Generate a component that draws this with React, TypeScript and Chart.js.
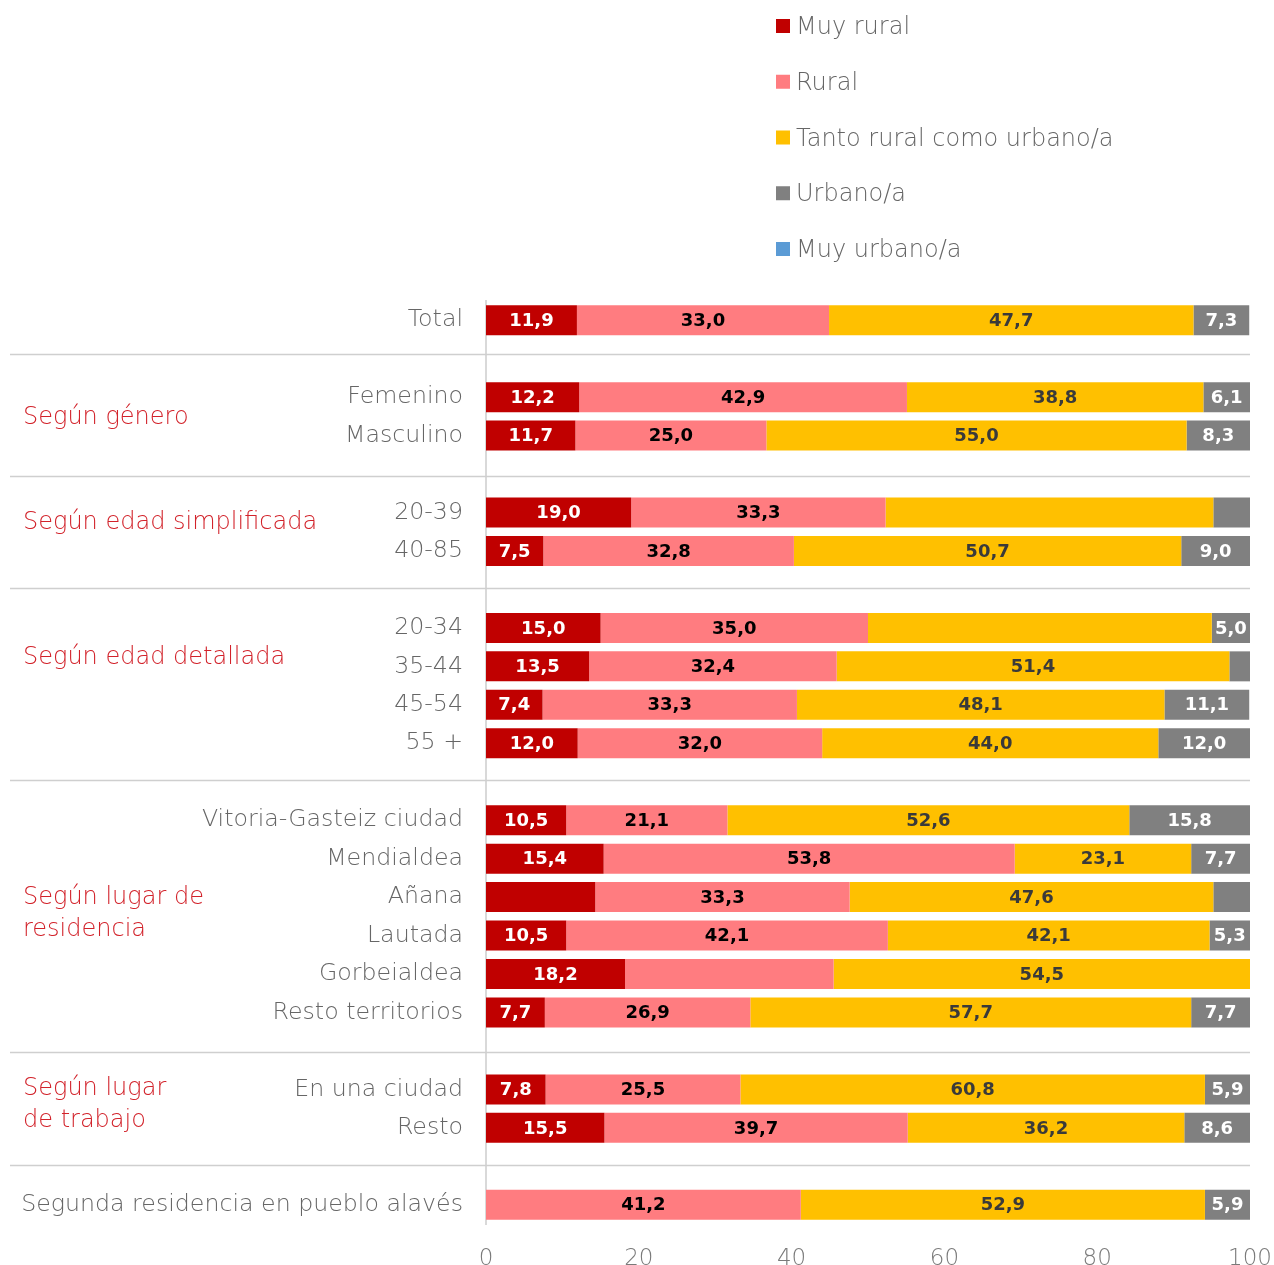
import { useEffect, useRef } from "react";
import { Chart, registerables } from "chart.js";

Chart.register(...registerables);

// ---------- DATA ----------
const categories: string[] = [
  "Total",
  "",
  "Femenino",
  "Masculino",
  "",
  "20-39",
  "40-85",
  "",
  "20-34",
  "35-44",
  "45-54",
  "55 +",
  "",
  "Vitoria-Gasteiz ciudad",
  "Mendialdea",
  "Añana",
  "Lautada",
  "Gorbeialdea",
  "Resto territorios",
  "",
  "En una ciudad",
  "Resto",
  "",
  "Segunda residencia en pueblo alavés",
];

const seriesNames = ["Muy rural", "Rural", "Tanto rural como urbano/a", "Urbano/a", "Muy urbano/a"];

const muyRural = [11.9, null, 12.2, 11.7, null, 19.0, 7.5, null, 15.0, 13.5, 7.4, 12.0, null, 10.5, 15.4, 14.3, 10.5, 18.2, 7.7, null, 7.8, 15.5, null, 0];
const rural = [33.0, null, 42.9, 25.0, null, 33.3, 32.8, null, 35.0, 32.4, 33.3, 32.0, null, 21.1, 53.8, 33.3, 42.1, 27.3, 26.9, null, 25.5, 39.7, null, 41.2];
const tanto = [47.7, null, 38.8, 55.0, null, 42.9, 50.7, null, 45.0, 51.4, 48.1, 44.0, null, 52.6, 23.1, 47.6, 42.1, 54.5, 57.7, null, 60.8, 36.2, null, 52.9];
const urbano = [7.3, null, 6.1, 8.3, null, 4.8, 9.0, null, 5.0, 2.7, 11.1, 12.0, null, 15.8, 7.7, 4.8, 5.3, 0, 7.7, null, 5.9, 8.6, null, 5.9];
const muyUrbano = [0, null, 0, 0, null, 0, 0, null, 0, 0, 0, 0, null, 0, 0, 0, 0, 0, 0, null, 0, 0, null, 0];

// value labels not shown in the original (category, series index)
const hiddenLabels: [string, number][] = [
  ["20-39", 2],
  ["20-34", 2],
  ["Añana", 0],
  ["Gorbeialdea", 1],
];
const minLabelValue = 5;

const xTicks = [0, 20, 40, 60, 80, 100];

// group labels: text lines and fractional row position
const groupLabels: { lines: string[]; row: number }[] = [
  { lines: ["Según género"], row: 2.5 },
  { lines: ["Según edad simplificada"], row: 5.25 },
  { lines: ["Según edad detallada"], row: 8.75 },
  { lines: ["Según lugar de", "residencia"], row: 15.0 },
  { lines: ["Según lugar", "de trabajo"], row: 19.96 },
];

// ---------- STYLE ----------
const colors = ["#C00000", "#FF7C80", "#FFC000", "#808080", "#5B9BD5"];
const labelColors = ["#ffffff", "#000000", "#3a3a3a", "#ffffff", "#ffffff"];
const FONT = "'DejaVu Sans', sans-serif";
const separatorOffsets = [-5, 2, -1, -2, 1, -1];

const legendPlugin = {
  id: "customLegend",
  afterDraw(chart: any) {
    const ctx = chart.ctx;
    ctx.save();
    ctx.font = `300 24px ${FONT}`;
    ctx.textBaseline = "middle";
    ctx.textAlign = "left";
    chart.data.datasets.forEach((ds: any, i: number) => {
      const y = 26 + i * 55.75;
      ctx.fillStyle = ds.backgroundColor;
      ctx.fillRect(776, y - 7, 14, 14);
      ctx.fillStyle = "#666666";
      ctx.fillText(ds.label, 796, y + 2);
    });
    ctx.restore();
  },
};

const separatorsPlugin = {
  id: "separators",
  beforeDatasetsDraw(chart: any) {
    const ctx = chart.ctx;
    const ys = chart.scales.y;
    const { right } = chart.chartArea;
    ctx.save();
    ctx.strokeStyle = "#cfcfcf";
    ctx.lineWidth = 1.5;
    let k = 0;
    categories.forEach((c, i) => {
      if (c !== "") return;
      const y = Math.round(ys.getPixelForValue(i)) + 0.5 + (separatorOffsets[k++] || 0);
      ctx.beginPath();
      ctx.moveTo(10, y);
      ctx.lineTo(right, y);
      ctx.stroke();
    });
    // group labels
    ctx.font = `300 24px ${FONT}`;
    ctx.fillStyle = "#D2222A";
    ctx.textAlign = "left";
    ctx.textBaseline = "middle";
    const { top, bottom } = chart.chartArea;
    const rowH = (bottom - top) / categories.length;
    groupLabels.forEach((g) => {
      const y0 = top + (g.row + 0.5) * rowH;
      g.lines.forEach((l, k2) => {
        ctx.fillText(l, 23, y0 + k2 * 32 + 1);
      });
    });
    ctx.restore();
  },
};

const valueLabelsPlugin = {
  id: "valueLabels",
  afterDatasetsDraw(chart: any) {
    const ctx = chart.ctx;
    ctx.save();
    ctx.font = `bold 18px ${FONT}`;
    ctx.textAlign = "center";
    ctx.textBaseline = "middle";
    chart.data.datasets.forEach((ds: any, di: number) => {
      const meta = chart.getDatasetMeta(di);
      meta.data.forEach((el: any, i: number) => {
        const v = ds.data[i];
        if (v == null || v < minLabelValue) return;
        if (hiddenLabels.some(([c, s]) => c === categories[i] && s === di)) return;
        const { x, base, y } = el.getProps(["x", "base", "y"], true);
        ctx.fillStyle = labelColors[di];
        ctx.fillText(v.toFixed(1).replace(".", ","), (x + base) / 2, y + 1);
      });
    });
    ctx.restore();
  },
};

export default function App() {
  const ref = useRef<HTMLCanvasElement>(null);

  useEffect(() => {
    if (!ref.current) return;
    const seriesData = [muyRural, rural, tanto, urbano, muyUrbano];
    const chart = new Chart(ref.current, {
      type: "bar",
      data: {
        labels: categories,
        datasets: seriesData.map((d, i) => ({
          label: seriesNames[i],
          data: d as any,
          backgroundColor: colors[i],
          borderWidth: 0,
          categoryPercentage: 1,
          barPercentage: 0.78,
        })),
      },
      options: {
        indexAxis: "y",
        responsive: false,
        animation: false,
        layout: { padding: { top: 301, right: 24, left: 0, bottom: 0 } },
        plugins: {
          legend: { display: false },
          tooltip: { enabled: false },
        },
        scales: {
          x: {
            stacked: true,
            min: 0,
            max: 100,
            afterBuildTicks: (s: any) => {
              s.ticks = xTicks.map((v) => ({ value: v }));
            },
            ticks: {
              color: "#7a7a7a",
              font: { family: FONT, size: 23, weight: 300 as any },
              padding: 21,
              maxRotation: 0,
            },
            grid: { display: false, drawTicks: false },
            border: { display: false },
            afterFit: (s: any) => {
              s.height = 41;
              s.paddingLeft = 0;
              s.paddingRight = 0;
            },
          },
          y: {
            stacked: true,
            grid: { display: false, drawTicks: false },
            border: { display: true, color: "#d9d9d9", width: 2 },
            ticks: {
              color: "#666666",
              font: { family: FONT, size: 23.7, weight: 300 as any },
              padding: 23,
              autoSkip: false,
            },
            afterFit: (s: any) => {
              s.width = 486;
            },
          },
        },
      },
      plugins: [legendPlugin, separatorsPlugin, valueLabelsPlugin],
    });
    return () => chart.destroy();
  }, []);

  return (
    <div style={{ position: "absolute", left: 0, top: 0, width: 1274, height: 1265 }}>
      <canvas ref={ref} width={1274} height={1265} style={{ display: "block" }} />
    </div>
  );
}
